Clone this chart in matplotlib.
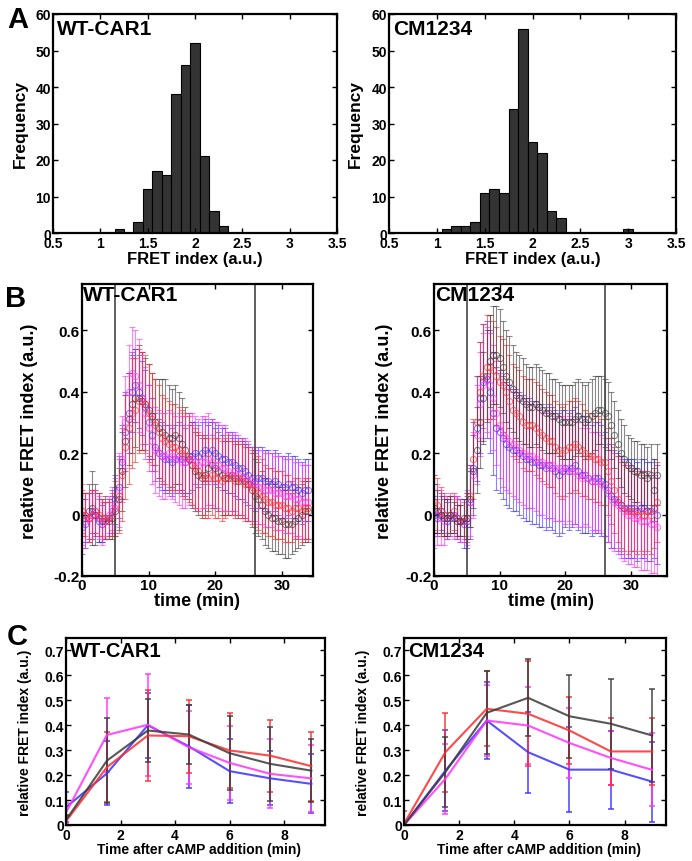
import numpy as np
import matplotlib
matplotlib.use("Agg")
import matplotlib.pyplot as plt

plt.rcParams['font.family'] = ['Liberation Sans', 'DejaVu Sans']
plt.rcParams['font.weight'] = 'bold'
plt.rcParams['axes.labelweight'] = 'bold'

# ---- Panel A : histograms of FRET index ----
hist_centers_wt = [1.2, 1.3, 1.4, 1.5, 1.6, 1.7, 1.8, 1.9, 2.0, 2.1, 2.2, 2.3]
hist_counts_wt = [1, 0, 3, 12, 17, 16, 38, 46, 52, 21, 6, 2]
hist_centers_cm = [1.1, 1.2, 1.3, 1.4, 1.5, 1.6, 1.7, 1.8, 1.9, 2.0, 2.1, 2.2, 2.3, 3.0]
hist_counts_cm = [1, 2, 2, 3, 11, 12, 11, 34, 56, 25, 22, 6, 4, 1]

# ---- Panel B : time courses (min) ----
time_b = np.arange(0, 34.01, 0.5)

wt_black = [0.00, -0.01, 0.01, 0.02, 0.00, -0.01, -0.02, -0.01, -0.02, -0.01,
            0.01, 0.05, 0.14, 0.24, 0.31, 0.36, 0.38, 0.38, 0.37, 0.36,
            0.34, 0.32, 0.30, 0.28, 0.27, 0.26, 0.25, 0.25, 0.26, 0.25,
            0.23, 0.21, 0.19, 0.16, 0.14, 0.13, 0.12, 0.13, 0.15, 0.16,
            0.15, 0.14, 0.13, 0.12, 0.12, 0.13, 0.12, 0.11, 0.12, 0.11,
            0.10, 0.08, 0.06, 0.05, 0.03, 0.01, 0.00, -0.01, -0.01, -0.02,
            -0.02, -0.03, -0.03, -0.03, -0.02, -0.01, 0.00, 0.01, 0.01]
wt_red = [0.01, 0.00, -0.01, 0.00, 0.01, 0.00, -0.01, -0.02, -0.01, 0.00,
          0.02, 0.06, 0.13, 0.22, 0.28, 0.33, 0.34, 0.37, 0.37, 0.36,
          0.33, 0.31, 0.29, 0.27, 0.25, 0.24, 0.23, 0.22, 0.22, 0.21,
          0.20, 0.19, 0.18, 0.16, 0.15, 0.14, 0.13, 0.12, 0.12, 0.13,
          0.12, 0.12, 0.11, 0.12, 0.13, 0.12, 0.11, 0.12, 0.11, 0.10,
          0.10, 0.09, 0.08, 0.07, 0.06, 0.05, 0.04, 0.04, 0.03, 0.03,
          0.03, 0.02, 0.02, 0.01, 0.02, 0.02, 0.01, 0.02, 0.02]
wt_blue = [-0.04, -0.03, -0.01, 0.01, 0.00, -0.02, -0.03, -0.02, -0.01, 0.01,
           0.05, 0.09, 0.17, 0.27, 0.33, 0.40, 0.42, 0.40, 0.38, 0.35,
           0.30, 0.26, 0.22, 0.20, 0.19, 0.18, 0.18, 0.17, 0.18, 0.19,
           0.18, 0.17, 0.18, 0.19, 0.20, 0.19, 0.20, 0.21, 0.20, 0.21,
           0.20, 0.19, 0.18, 0.18, 0.17, 0.17, 0.16, 0.15, 0.15, 0.14,
           0.13, 0.12, 0.11, 0.12, 0.12, 0.11, 0.11, 0.10, 0.11, 0.10,
           0.09, 0.09, 0.10, 0.09, 0.09, 0.08, 0.07, 0.08, 0.08]
wt_magenta = [0.00, -0.02, -0.01, 0.00, 0.01, -0.01, -0.03, -0.02, 0.00, 0.02,
              0.03, 0.08, 0.18, 0.30, 0.40, 0.46, 0.45, 0.42, 0.38, 0.33,
              0.28, 0.24, 0.21, 0.20, 0.19, 0.19, 0.20, 0.19, 0.18, 0.18,
              0.17, 0.17, 0.18, 0.18, 0.17, 0.16, 0.17, 0.17, 0.18, 0.17,
              0.16, 0.16, 0.15, 0.15, 0.14, 0.13, 0.14, 0.13, 0.12, 0.12,
              0.11, 0.10, 0.10, 0.09, 0.09, 0.08, 0.08, 0.08, 0.07, 0.07,
              0.07, 0.06, 0.06, 0.06, 0.05, 0.05, 0.04, 0.04, 0.04]

wt_black_err = [0.07, 0.08, 0.09, 0.12, 0.10, 0.08, 0.07, 0.07, 0.06, 0.07,
                0.08, 0.10, 0.13, 0.15, 0.15, 0.16, 0.16, 0.17, 0.16, 0.15,
                0.15, 0.14, 0.14, 0.16, 0.17, 0.18, 0.17, 0.16, 0.16, 0.15,
                0.15, 0.14, 0.14, 0.14, 0.13, 0.13, 0.13, 0.13, 0.14, 0.14,
                0.13, 0.13, 0.13, 0.12, 0.12, 0.12, 0.12, 0.12, 0.12, 0.12,
                0.12, 0.12, 0.12, 0.12, 0.11, 0.11, 0.11, 0.11, 0.11, 0.11,
                0.11, 0.11, 0.11, 0.10, 0.10, 0.10, 0.10, 0.10, 0.10]
wt_red_err = [0.07, 0.07, 0.08, 0.08, 0.07, 0.07, 0.06, 0.06, 0.06, 0.07,
              0.09, 0.12, 0.15, 0.17, 0.18, 0.18, 0.17, 0.17, 0.16, 0.16,
              0.16, 0.15, 0.15, 0.15, 0.14, 0.14, 0.14, 0.14, 0.14, 0.14,
              0.14, 0.14, 0.14, 0.13, 0.13, 0.13, 0.13, 0.13, 0.13, 0.13,
              0.13, 0.13, 0.13, 0.13, 0.13, 0.12, 0.12, 0.12, 0.12, 0.12,
              0.12, 0.12, 0.12, 0.12, 0.12, 0.11, 0.11, 0.11, 0.11, 0.11,
              0.11, 0.11, 0.11, 0.10, 0.10, 0.10, 0.10, 0.10, 0.10]
wt_blue_err = [0.09, 0.08, 0.08, 0.07, 0.07, 0.07, 0.06, 0.06, 0.06, 0.07,
               0.08, 0.10, 0.12, 0.13, 0.13, 0.13, 0.12, 0.12, 0.12, 0.12,
               0.12, 0.12, 0.11, 0.11, 0.11, 0.11, 0.11, 0.11, 0.11, 0.11,
               0.11, 0.11, 0.11, 0.11, 0.10, 0.10, 0.10, 0.10, 0.10, 0.10,
               0.10, 0.10, 0.10, 0.10, 0.10, 0.10, 0.10, 0.10, 0.10, 0.10,
               0.10, 0.10, 0.10, 0.10, 0.10, 0.10, 0.10, 0.10, 0.10, 0.10,
               0.10, 0.10, 0.10, 0.10, 0.10, 0.10, 0.10, 0.10, 0.10]
wt_magenta_err = [0.10, 0.09, 0.08, 0.08, 0.07, 0.07, 0.07, 0.06, 0.06, 0.07,
                  0.09, 0.12, 0.14, 0.15, 0.15, 0.15, 0.15, 0.15, 0.15, 0.15,
                  0.14, 0.14, 0.14, 0.14, 0.14, 0.14, 0.14, 0.14, 0.14, 0.15,
                  0.15, 0.15, 0.15, 0.15, 0.15, 0.15, 0.15, 0.15, 0.15, 0.14,
                  0.14, 0.14, 0.14, 0.14, 0.13, 0.13, 0.13, 0.13, 0.13, 0.13,
                  0.13, 0.12, 0.12, 0.12, 0.12, 0.12, 0.12, 0.12, 0.12, 0.12,
                  0.12, 0.12, 0.12, 0.12, 0.12, 0.12, 0.12, 0.12, 0.12]

cm_black = [0.02, 0.01, 0.00, -0.01, -0.01, 0.00, -0.01, -0.02, -0.02, -0.01,
            -0.01, 0.05, 0.14, 0.21, 0.30, 0.38, 0.45, 0.50, 0.52, 0.52,
            0.51, 0.48, 0.45, 0.43, 0.41, 0.39, 0.38, 0.37, 0.36, 0.35,
            0.35, 0.36, 0.35, 0.34, 0.33, 0.33, 0.32, 0.32, 0.31, 0.30,
            0.30, 0.30, 0.30, 0.31, 0.32, 0.31, 0.30, 0.31, 0.32, 0.33,
            0.34, 0.34, 0.33, 0.32, 0.29, 0.26, 0.23, 0.20, 0.18, 0.16,
            0.15, 0.14, 0.14, 0.13, 0.13, 0.12, 0.13, 0.08, 0.13]
cm_red = [0.04, 0.03, 0.01, 0.00, -0.01, 0.00, 0.01, -0.01, -0.02, -0.02,
          -0.01, 0.06, 0.18, 0.30, 0.40, 0.45, 0.48, 0.48, 0.47, 0.45,
          0.43, 0.42, 0.40, 0.37, 0.34, 0.33, 0.32, 0.30, 0.29, 0.29,
          0.29, 0.28, 0.27, 0.26, 0.25, 0.24, 0.24, 0.22, 0.21, 0.20,
          0.21, 0.22, 0.22, 0.23, 0.22, 0.21, 0.20, 0.19, 0.19, 0.18,
          0.18, 0.17, 0.17, 0.14, 0.11, 0.08, 0.05, 0.03, 0.02, 0.01,
          0.01, 0.01, 0.00, 0.01, 0.00, 0.01, 0.00, 0.02, 0.04]
cm_blue = [0.00, -0.01, 0.01, 0.00, -0.02, -0.01, 0.00, -0.01, -0.02, -0.03,
           -0.02, 0.04, 0.15, 0.28, 0.38, 0.43, 0.44, 0.40, 0.33, 0.28,
           0.27, 0.25, 0.23, 0.22, 0.21, 0.21, 0.20, 0.19, 0.18, 0.18,
           0.17, 0.17, 0.16, 0.16, 0.15, 0.16, 0.15, 0.14, 0.13, 0.14,
           0.15, 0.14, 0.15, 0.16, 0.14, 0.13, 0.13, 0.12, 0.11, 0.12,
           0.12, 0.11, 0.10, 0.08, 0.06, 0.05, 0.04, 0.03, 0.02, 0.02,
           0.02, 0.02, 0.01, 0.02, 0.02, 0.01, 0.01, 0.02, 0.00]
cm_magenta = [0.01, 0.00, -0.01, -0.02, -0.01, 0.00, -0.01, -0.01, -0.02, -0.02,
              -0.01, 0.04, 0.13, 0.26, 0.36, 0.42, 0.44, 0.42, 0.38, 0.33,
              0.29, 0.26, 0.25, 0.24, 0.23, 0.22, 0.21, 0.20, 0.19, 0.19,
              0.19, 0.18, 0.17, 0.17, 0.16, 0.16, 0.16, 0.15, 0.15, 0.15,
              0.14, 0.15, 0.14, 0.14, 0.13, 0.12, 0.13, 0.12, 0.11, 0.11,
              0.11, 0.10, 0.09, 0.07, 0.05, 0.04, 0.03, 0.02, 0.01, 0.00,
              0.00, -0.01, -0.01, -0.02, -0.02, -0.02, -0.03, -0.03, -0.04]

cm_black_err = [0.08, 0.07, 0.06, 0.06, 0.06, 0.06, 0.05, 0.05, 0.05, 0.06,
                0.07, 0.09, 0.12, 0.14, 0.15, 0.15, 0.15, 0.15, 0.16, 0.16,
                0.16, 0.15, 0.15, 0.15, 0.14, 0.14, 0.14, 0.14, 0.13, 0.13,
                0.13, 0.13, 0.13, 0.13, 0.13, 0.13, 0.12, 0.12, 0.12, 0.12,
                0.12, 0.12, 0.12, 0.12, 0.12, 0.12, 0.12, 0.12, 0.12, 0.12,
                0.11, 0.11, 0.11, 0.11, 0.11, 0.11, 0.11, 0.11, 0.11, 0.10,
                0.10, 0.10, 0.10, 0.10, 0.10, 0.10, 0.10, 0.10, 0.10]
cm_red_err = [0.09, 0.09, 0.08, 0.07, 0.06, 0.06, 0.06, 0.06, 0.05, 0.06,
              0.08, 0.10, 0.13, 0.15, 0.16, 0.17, 0.17, 0.17, 0.16, 0.16,
              0.15, 0.15, 0.15, 0.15, 0.15, 0.15, 0.15, 0.15, 0.15, 0.15,
              0.15, 0.15, 0.15, 0.15, 0.15, 0.15, 0.15, 0.15, 0.15, 0.15,
              0.15, 0.15, 0.15, 0.15, 0.15, 0.15, 0.14, 0.14, 0.14, 0.14,
              0.14, 0.14, 0.14, 0.14, 0.14, 0.14, 0.14, 0.14, 0.14, 0.14,
              0.13, 0.13, 0.13, 0.13, 0.13, 0.13, 0.13, 0.13, 0.13]
cm_blue_err = [0.06, 0.06, 0.06, 0.06, 0.06, 0.06, 0.06, 0.07, 0.07, 0.08,
               0.09, 0.12, 0.15, 0.17, 0.18, 0.19, 0.19, 0.20, 0.20, 0.20,
               0.20, 0.20, 0.20, 0.20, 0.20, 0.20, 0.20, 0.20, 0.20, 0.20,
               0.20, 0.20, 0.20, 0.20, 0.20, 0.20, 0.20, 0.20, 0.20, 0.20,
               0.19, 0.19, 0.19, 0.19, 0.19, 0.19, 0.19, 0.18, 0.18, 0.18,
               0.18, 0.18, 0.17, 0.17, 0.17, 0.16, 0.16, 0.16, 0.16, 0.16,
               0.16, 0.16, 0.16, 0.16, 0.16, 0.16, 0.16, 0.16, 0.16]
cm_magenta_err = [0.12, 0.10, 0.09, 0.08, 0.07, 0.07, 0.07, 0.07, 0.07, 0.07,
                  0.09, 0.11, 0.14, 0.16, 0.17, 0.17, 0.17, 0.17, 0.17, 0.17,
                  0.17, 0.17, 0.17, 0.17, 0.17, 0.17, 0.17, 0.17, 0.17, 0.17,
                  0.17, 0.17, 0.17, 0.17, 0.17, 0.17, 0.17, 0.17, 0.17, 0.17,
                  0.17, 0.17, 0.17, 0.17, 0.17, 0.16, 0.16, 0.16, 0.16, 0.16,
                  0.16, 0.16, 0.16, 0.16, 0.16, 0.16, 0.16, 0.16, 0.16, 0.16,
                  0.16, 0.16, 0.16, 0.16, 0.16, 0.16, 0.16, 0.16, 0.16]

stim_times = [5, 26]

# ---- Panel C : mean response after cAMP addition ----
time_c = [0, 1.5, 3, 4.5, 6, 7.5, 9]
c_wt_black = [0.02, 0.258, 0.379, 0.363, 0.288, 0.245, 0.218]
c_wt_red = [0.015, 0.232, 0.359, 0.356, 0.299, 0.278, 0.236]
c_wt_blue = [0.071, 0.207, 0.400, 0.316, 0.216, 0.187, 0.165]
c_wt_magenta = [0.05, 0.361, 0.402, 0.312, 0.249, 0.205, 0.187]
c_wt_black_err = [0.02, 0.17, 0.127, 0.12, 0.148, 0.15, 0.127]
c_wt_red_err = [0.02, 0.14, 0.183, 0.146, 0.15, 0.145, 0.139]
c_wt_blue_err = [0.06, 0.128, 0.13, 0.166, 0.128, 0.108, 0.118]
c_wt_magenta_err = [0.04, 0.148, 0.204, 0.147, 0.147, 0.138, 0.135]

c_cm_black = [0.0, 0.212, 0.45, 0.51, 0.436, 0.406, 0.359]
c_cm_red = [0.005, 0.292, 0.466, 0.446, 0.379, 0.295, 0.295]
c_cm_blue = [0.0, 0.218, 0.419, 0.292, 0.222, 0.222, 0.174]
c_cm_magenta = [0.0, 0.185, 0.419, 0.399, 0.329, 0.269, 0.221]
c_cm_black_err = [0.01, 0.14, 0.166, 0.154, 0.166, 0.18, 0.187]
c_cm_red_err = [0.05, 0.158, 0.15, 0.21, 0.136, 0.135, 0.135]
c_cm_blue_err = [0.01, 0.162, 0.155, 0.162, 0.17, 0.157, 0.16]
c_cm_magenta_err = [0.01, 0.14, 0.142, 0.155, 0.139, 0.11, 0.146]

colors = {'black': '#3a3a3a', 'red': '#ff2a2a', 'blue': '#3b30ff', 'magenta': '#ff30ff'}

W, H = 692, 862
fig = plt.figure(figsize=(W / 100, H / 100), dpi=100)


def px_axes(x0, y0, x1, y1):
    # pixel box (top-left origin) -> figure axes
    return fig.add_axes([x0 / W, 1 - y1 / H, (x1 - x0) / W, (y1 - y0) / H])


def matlab_style(ax, size):
    for s in ax.spines.values():
        s.set_linewidth(1.6)
    ax.tick_params(direction='in', top=True, right=True, length=3.5, width=1.0,
                   labelsize=size, pad=1.5)
    for lab in ax.get_xticklabels() + ax.get_yticklabels():
        lab.set_fontweight('bold')


# ---- A ----
for (x0, x1), centers, counts, name in [((53, 337), hist_centers_wt, hist_counts_wt, 'WT-CAR1'),
                                        ((389, 676), hist_centers_cm, hist_counts_cm, 'CM1234')]:
    ax = px_axes(x0, 15, x1, 234)
    ax.bar(centers, counts, width=0.1, color='#333333', edgecolor='black', linewidth=0.8)
    ax.set_xlim(0.5, 3.5)
    ax.set_ylim(0, 60)
    ax.set_xticks([0.5, 1, 1.5, 2, 2.5, 3, 3.5])
    ax.set_xticklabels(['0.5', '1', '1.5', '2', '2.5', '3', '3.5'])
    ax.set_yticks([0, 10, 20, 30, 40, 50, 60])
    matlab_style(ax, 10)
    ax.tick_params(axis='x', pad=2.5)
    ax.set_xlabel('FRET index (a.u.)', fontsize=12)
    ax.xaxis.set_label_coords(0.5, -0.082)
    ax.set_ylabel('Frequency', fontsize=12.5)
    ax.yaxis.set_label_coords(-0.09, 0.5)
    ax.text(0.015, 0.975, name, transform=ax.transAxes, fontsize=15, fontweight='bold',
            va='top', ha='left')

# ---- B ----
b_sets = [
    ((82, 313), 34.7, 'WT-CAR1', [(wt_black, wt_black_err, 'black'), (wt_blue, wt_blue_err, 'blue'),
                                  (wt_magenta, wt_magenta_err, 'magenta'), (wt_red, wt_red_err, 'red')], -0.19),
    ((434, 667), 35.5, 'CM1234', [(cm_blue, cm_blue_err, 'blue'), (cm_magenta, cm_magenta_err, 'magenta'),
                                  (cm_red, cm_red_err, 'red'), (cm_black, cm_black_err, 'black')], -0.175),
]
for (x0, x1), xmax, name, series, ylab_x in b_sets:
    ax = px_axes(x0, 285, x1, 577)
    for mean, err, c in series:
        ax.errorbar(time_b, mean, yerr=err, fmt='o', ms=4.5, mfc='none', mec=colors[c], mew=0.8,
                    ecolor=colors[c], elinewidth=0.8, capsize=2, capthick=0.8, alpha=0.6)
    for ts in stim_times:
        ax.axvline(ts, color='#444444', lw=1.2)
    ax.set_xlim(0, xmax)
    ax.set_ylim(-0.2, 0.75)
    ax.set_xticks([0, 10, 20, 30])
    ax.set_yticks([-0.2, 0, 0.2, 0.4, 0.6])
    ax.set_yticklabels(['-0.2', '0', '0.2', '0.4', '0.6'])
    matlab_style(ax, 11)
    ax.set_xlabel('time (min)', fontsize=13)
    ax.xaxis.set_label_coords(0.5, -0.055)
    ax.set_ylabel('relative FRET index (a.u.)', fontsize=13)
    ax.yaxis.set_label_coords(ylab_x, 0.5)
    ax.text(0.005, 0.995, name, transform=ax.transAxes, fontsize=15, fontweight='bold',
            va='top', ha='left')

# ---- C ----
c_sets = [
    ((66, 325), 'WT-CAR1', [(c_wt_blue, c_wt_blue_err, 'blue'), (c_wt_magenta, c_wt_magenta_err, 'magenta'),
                            (c_wt_red, c_wt_red_err, 'red'), (c_wt_black, c_wt_black_err, 'black')]),
    ((404, 666), 'CM1234', [(c_cm_blue, c_cm_blue_err, 'blue'), (c_cm_magenta, c_cm_magenta_err, 'magenta'),
                            (c_cm_red, c_cm_red_err, 'red'), (c_cm_black, c_cm_black_err, 'black')]),
]
for (x0, x1), name, series in c_sets:
    ax = px_axes(x0, 639, x1, 826)
    for mean, err, c in series:
        ax.errorbar(time_c, mean, yerr=err, color=colors[c], lw=1.5, elinewidth=1.2,
                    capsize=2.5, capthick=1.2, alpha=0.85)
    ax.set_xlim(0, 9.5)
    ax.set_ylim(0, 0.75)
    ax.set_xticks([0, 2, 4, 6, 8])
    ax.set_yticks([0, 0.1, 0.2, 0.3, 0.4, 0.5, 0.6, 0.7])
    ax.set_yticklabels(['0', '0.1', '0.2', '0.3', '0.4', '0.5', '0.6', '0.7'])
    matlab_style(ax, 10)
    ax.tick_params(axis='x', pad=2.5)
    ax.set_xlabel('Time after cAMP addition (min)', fontsize=10)
    ax.xaxis.set_label_coords(0.515, -0.09)
    ax.set_ylabel('relative FRET index (a.u.)', fontsize=10)
    ax.yaxis.set_label_coords(-0.13, 0.5)
    ax.text(0.015, 0.985, name, transform=ax.transAxes, fontsize=14.5, fontweight='bold',
            va='top', ha='left')

# panel letters
fig.text(7 / W, 1 - 6 / H, 'A', fontsize=21, fontweight='bold', va='top', ha='left')
fig.text(5 / W, 1 - 285 / H, 'B', fontsize=21, fontweight='bold', va='top', ha='left')
fig.text(7 / W, 1 - 623 / H, 'C', fontsize=21, fontweight='bold', va='top', ha='left')

fig.savefig('out.png', dpi=100)
